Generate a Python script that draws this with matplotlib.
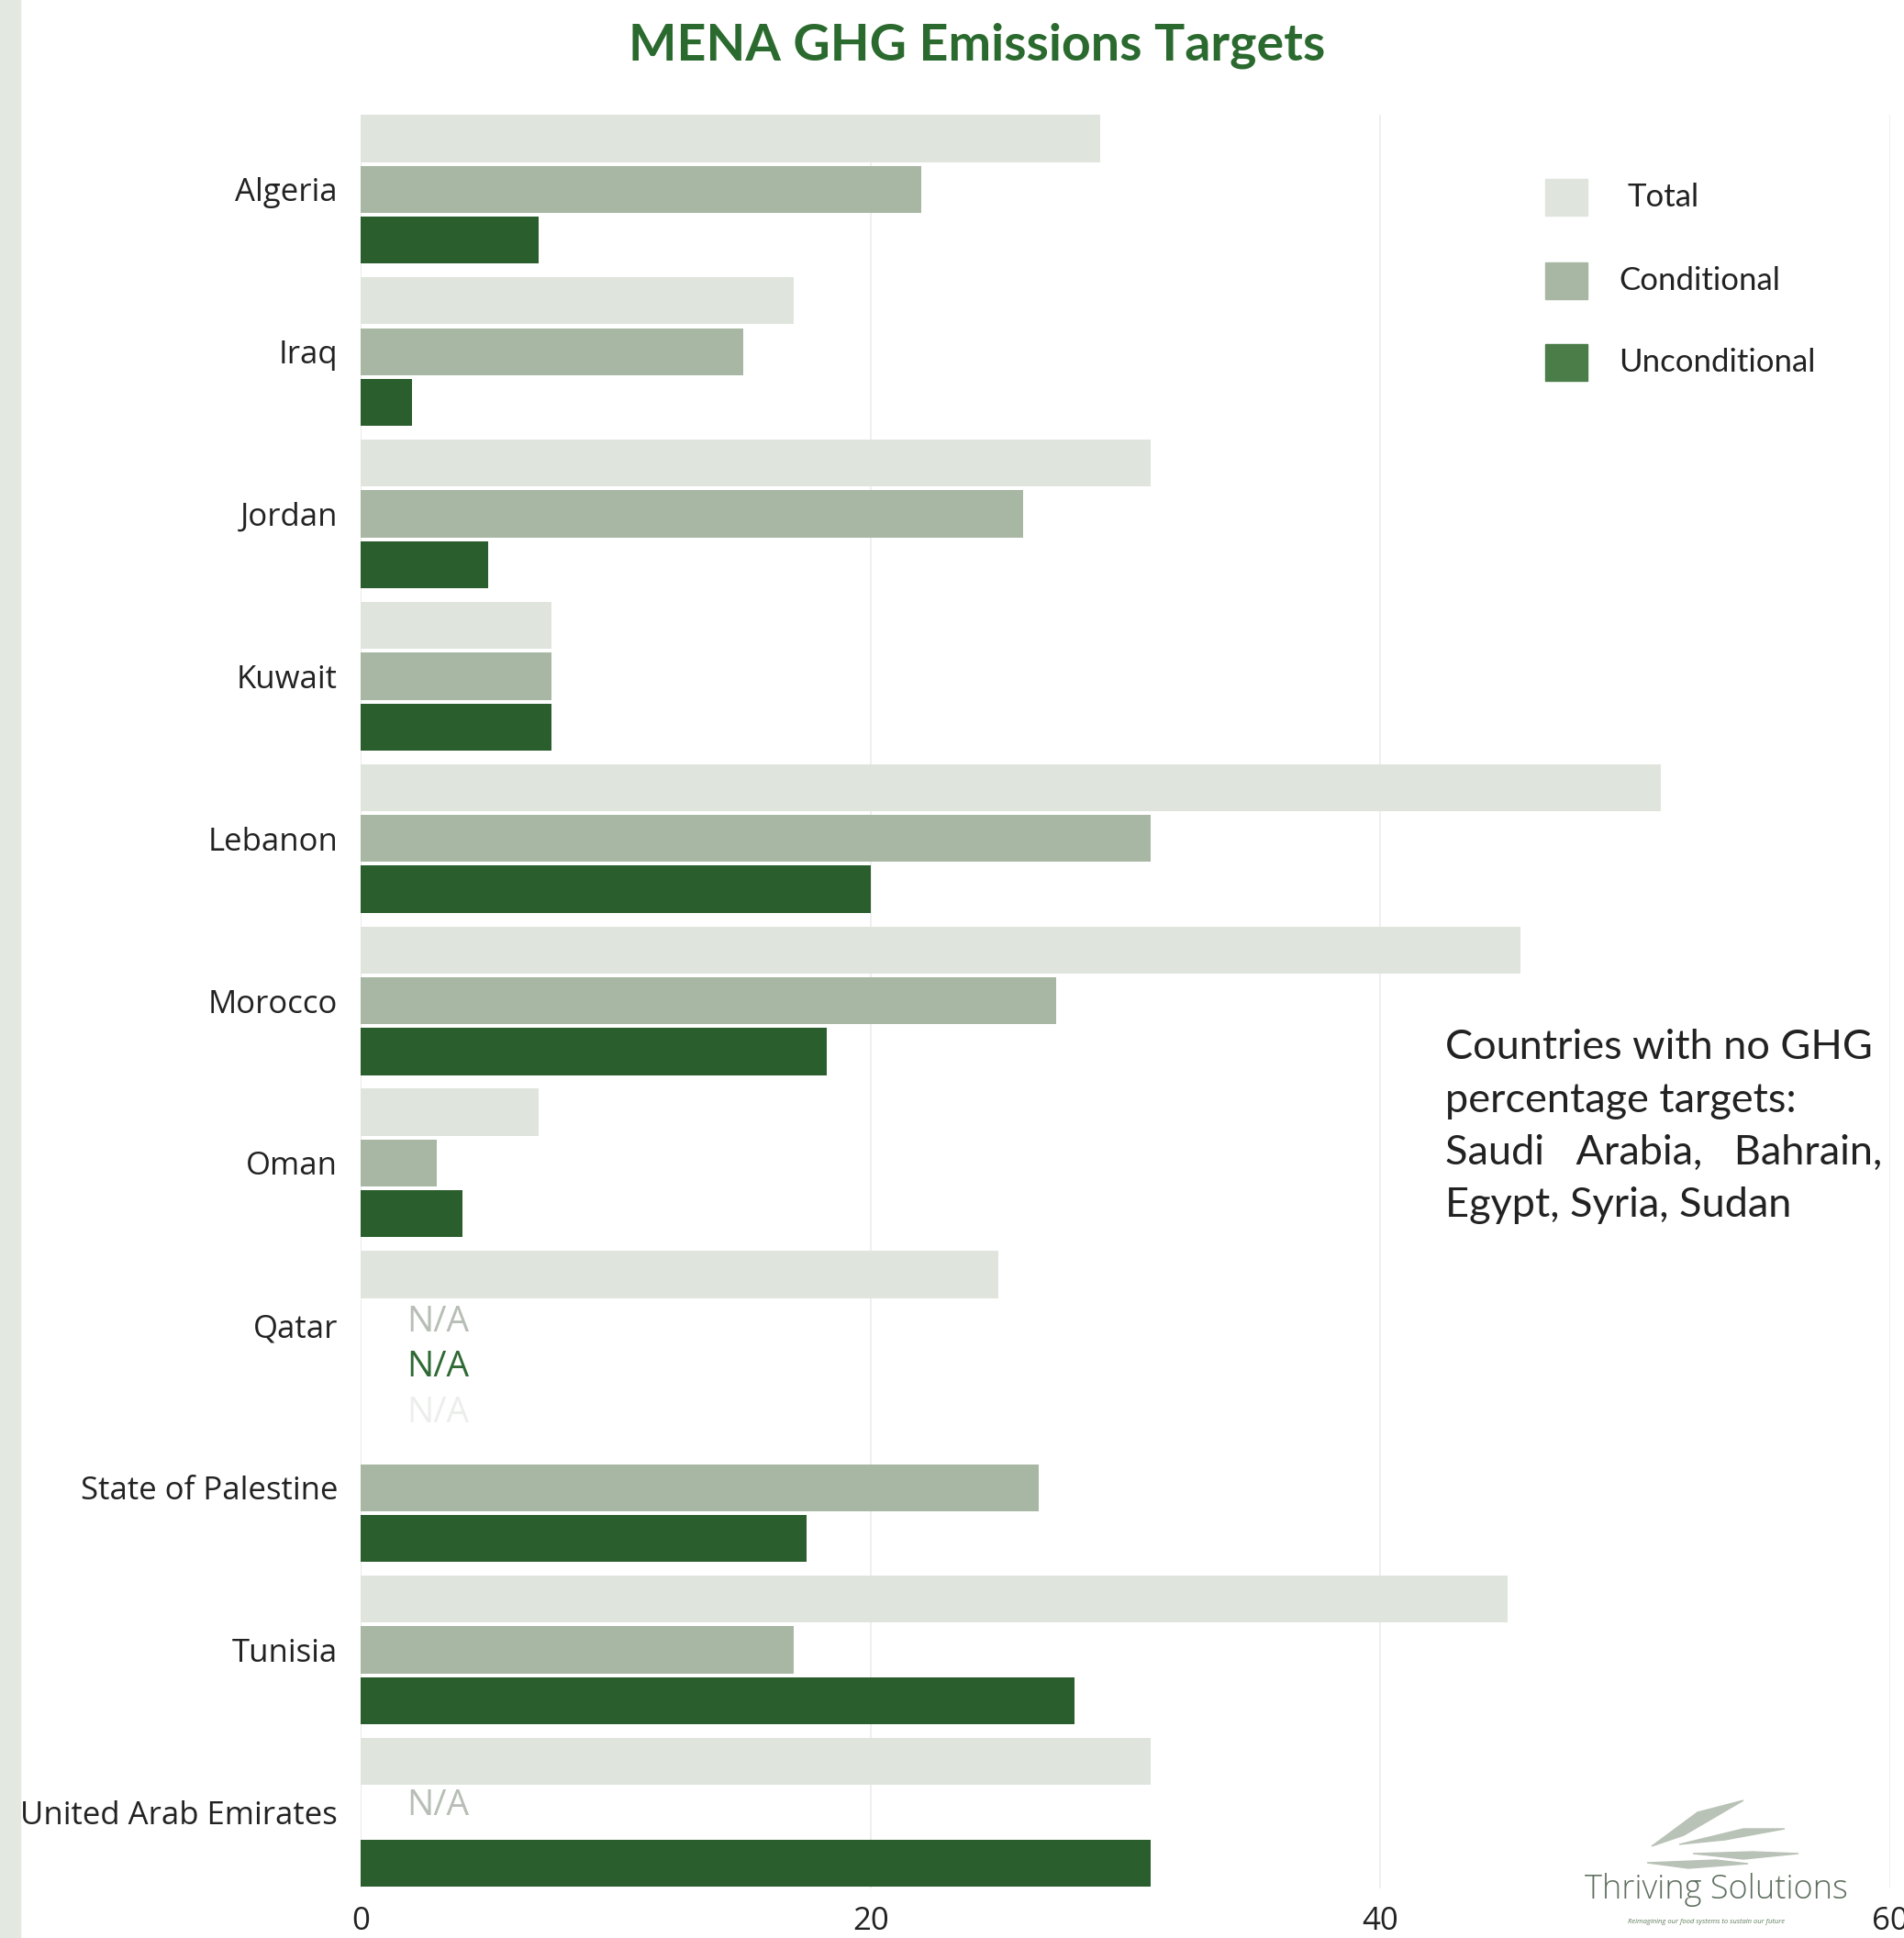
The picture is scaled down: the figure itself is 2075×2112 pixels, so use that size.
import numpy as np
import matplotlib.pyplot as plt
from matplotlib.patches import Rectangle, Polygon

countries = ['Algeria', 'Iraq', 'Jordan', 'Kuwait', 'Lebanon', 'Morocco', 'Oman',
             'Qatar', 'State of Palestine', 'Tunisia', 'United Arab Emirates']
total         = [29.0, 17.0, 31.0, 7.5, 51.0, 45.5, 7.0, 25.0, None, 45.0, 31.0]
conditional   = [22.0, 15.0, 26.0, 7.5, 31.0, 27.3, 3.0, None, 26.6, 17.0, None]
unconditional = [7.0, 2.0, 5.0, 7.5, 20.0, 18.3, 4.0, None, 17.5, 28.0, 31.0]

series_names = ['Total', 'Conditional', 'Unconditional']
colors = ['#dfe5dd', '#a8b7a3', '#2a5e2c']
legend_colors = ['#dfe5dd', '#a8b7a3', '#4b7d48']

# N/A markers: (country index, row offset, colour)
na_marks = [(7, -0.02, '#b7beb5'), (7, 0.26, '#2f6a35'), (7, 0.54, '#eceeec'),
            (10, -0.04, '#b7beb5')]

W, H = 2075, 2112
fig = plt.figure(figsize=(W / 100, H / 100), dpi=100)
fig.patches.append(Rectangle((0, 0), 22 / W, 1, transform=fig.transFigure,
                             color='#e3e8e1', zorder=0))

ax = fig.add_axes([393 / W, 54 / H, (2060 - 393) / W, (2112 - 125 - 54) / H])

y = np.arange(len(countries))
off = 0.313
h = 0.29
for k, vals in enumerate([total, conditional, unconditional]):
    yy = [y[i] + (k - 1) * off for i, v in enumerate(vals) if v is not None]
    ww = [v for v in vals if v is not None]
    ax.barh(yy, ww, height=h, color=colors[k], zorder=3)

for i, dy, c in na_marks:
    ax.text(1.8, y[i] + dy, 'N/A', color=c, fontsize=28, family='Open Sans',
            va='center', ha='left', zorder=4)

ax.set_xlim(0, 60)
ax.set_ylim(len(countries) - 1 + 0.47, -0.46)
ax.set_xticks([0, 20, 40, 60])
ax.set_yticks(y)
ax.set_yticklabels(countries)
ax.grid(axis='x', color='#ececec', lw=1.2, zorder=0)
ax.axvline(0, color='#e6e6e6', lw=1.2, zorder=1)
for s in ax.spines.values():
    s.set_visible(False)
ax.tick_params(axis='y', length=0, pad=18, labelsize=25, labelcolor='#222222')
ax.tick_params(axis='x', length=0, pad=14, labelsize=25, labelcolor='#222222')
for lab in ax.get_yticklabels() + ax.get_xticklabels():
    lab.set_family('Open Sans')

# legend, drawn as squares and labels
leg_y = [215, 306, 395]
for name, c, ly in zip(series_names, legend_colors, leg_y):
    fig.patches.append(Rectangle((1684 / W, 1 - (ly + 20) / H), 46 / W, 40 / H,
                                 transform=fig.transFigure, color=c, zorder=5))
    fig.text((1773 if name == 'Total' else 1764) / W, 1 - ly / H, name,
             ha='left', va='center', fontsize=25, family='Lato', color='#222222')

fig.text(1065 / W, 1 - 50 / H, 'MENA GHG Emissions Targets', ha='center', va='center',
         fontsize=40, fontweight='bold', family='Lato', color='#2b6a2e')

note = 'Countries with no GHG\npercentage targets:\nSaudi   Arabia,   Bahrain,\nEgypt, Syria, Sudan'
fig.text(1575 / W, 1 - 1121 / H, note, ha='left', va='top', fontsize=32.5, family='Lato',
         color='#222222', linespacing=1.5)

# logo
leaves = [[(1800, 2012), (1850, 1975), (1900, 1962), (1835, 2000)],
          [(1830, 2010), (1900, 1993), (1945, 1993), (1880, 2005)],
          [(1845, 2020), (1910, 2018), (1960, 2020), (1900, 2026)],
          [(1795, 2030), (1870, 2027), (1905, 2031), (1840, 2036)]]
for pts in leaves:
    fig.patches.append(Polygon([(px / W, 1 - py / H) for px, py in pts], closed=True,
                               transform=fig.transFigure, color='#b9c2b6', zorder=2))
fig.text(1870 / W, 1 - 2060 / H, 'Thriving Solutions', ha='center', va='center',
         fontsize=26, family='Open Sans', fontweight='light', color='#5f6f5f')
fig.text(1860 / W, 1 - 2095 / H, 'Reimagining our food systems to sustain our future',
         ha='center', va='center', fontsize=5.5, family='Open Sans', style='italic',
         color='#5f7f5a')

fig.savefig('out.png', dpi=100, facecolor='white')
